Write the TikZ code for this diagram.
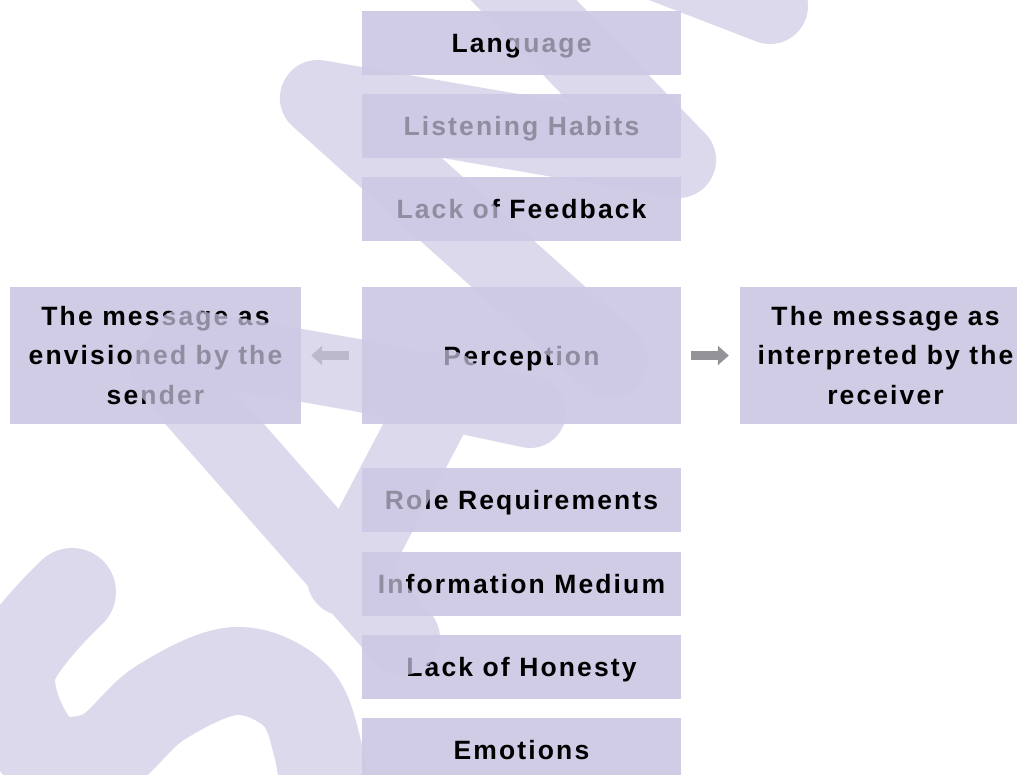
\documentclass[tikz,border=0pt]{standalone}
\usepackage{fontspec}
\newfontfamily\boxfont{Liberation Sans}[LetterSpace=8]
\usetikzlibrary{arrows.meta}
\definecolor{boxc}{RGB}{209,204,230}
\definecolor{wmc}{RGB}{205,201,228}
\definecolor{arrc}{RGB}{148,148,152}
\begin{document}
\begin{tikzpicture}[x=1pt,y=-1pt,
  boxbase/.style={fill=boxc, draw=none, inner sep=0pt, minimum width=319pt, minimum height=64pt,
    font={\boxfont\bfseries\fontsize{26.5}{39.5}\selectfont}},
  onebox/.style={boxbase, text height=19pt, text depth=0pt},
  sidebox/.style={boxbase, minimum width=291pt, minimum height=137pt, align=center},
  arr/.style={draw=arrc, line width=9pt, -{Triangle[length=11pt,width=19pt]}},
  wm/.style={draw=wmc, line width=76pt, line cap=round, line join=round}]
\useasboundingbox (0,0) rectangle (1017,774);
\clip (0,0) rectangle (1017,774);
% boxes
\node[onebox] (lang) at (521.5,43) {Language};
\node[onebox] (listen) at (521.5,125.5) {Listening Habits};
\node[onebox] (feed) at (521.5,208.5) {Lack of Feedback};
\node[onebox, minimum height=137pt] (perc) at (521.5,355.5) {Perception};
\node[onebox] (role) at (521.5,500) {Role Requirements};
\node[onebox] (info) at (521.5,584) {Information Medium};
\node[onebox] (hon) at (521.5,667) {Lack of Honesty};
\node[onebox] (emo) at (521.5,750) {Emotions};
\node[sidebox] (send) at (155.5,355.5) {The message as\\envisioned by the\\sender};
\node[sidebox] (recv) at (885.5,355.5) {The message as\\interpreted by the\\receiver};
% arrows
\draw[arr] ([xshift=-13pt]perc.west) -- ([xshift=10pt]send.east);
\draw[arr] ([xshift=10pt]perc.east) -- ([xshift=-11pt]recv.west);
% watermark
\begin{scope}[transparency group, opacity=0.7]
\draw[wm] (480,-45) -- (678,160) -- (318,98) -- (610,360);
\draw[wm] (560,-75) -- (770,6);
\draw[wm, line width=72pt] (185,345) -- (362,376) -- (530,412);
\draw[wm, line width=74pt] (167,370) -- (403,638);
\draw[wm] (445,388) -- (345,578);
\draw[wm, line width=88pt] plot[smooth, tension=0.6] coordinates {(72,592) (12,670) (40,750) (100,755) (160,703) (235,671) (295,695) (318,750) (325,810)};
\end{scope}
\end{tikzpicture}
\end{document}
